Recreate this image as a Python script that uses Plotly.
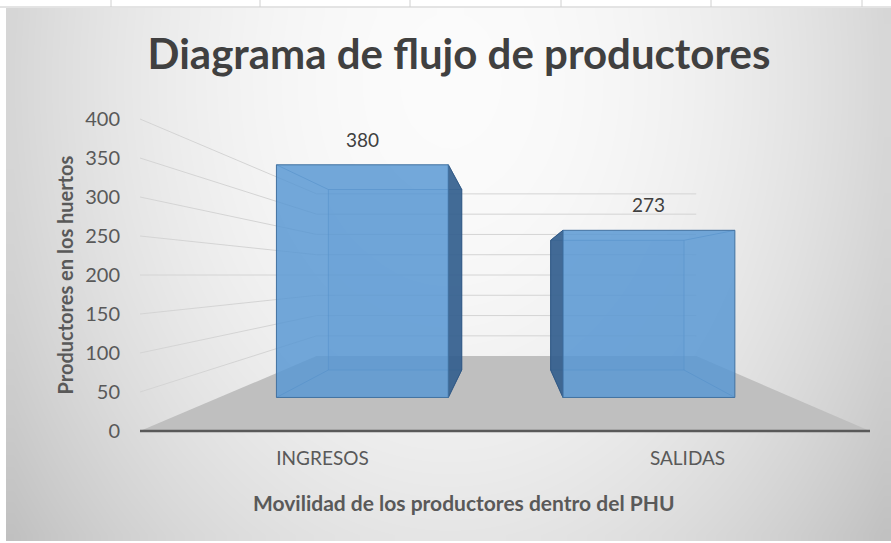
import numpy as np
import plotly.graph_objects as go

# ---------------- data ----------------
categories = ["INGRESOS", "SALIDAS"]
values = [380, 273]
y_ticks = [0, 50, 100, 150, 200, 250, 300, 350, 400]

title_text = "Diagrama de flujo de productores"
x_title = "Movilidad de los productores dentro del PHU"
y_title = "Productores en los huertos"

# ---------------- geometry of the pseudo-3D scene ----------------
W, H = 891, 543
FX0, FX1 = 140, 870          # front edge of floor (pixels)
FY0, FY1 = 431, 119          # pixel rows of value 0 and YMAX on the front plane
YMAX = 400
VX, VY = 508, 275            # vanishing point
D_BAR_FRONT = 0.785          # depth factor of bar front faces
D_BAR_BACK = 0.609           # depth factor of bar back faces
D_WALL = 0.52                # depth factor of back wall
GAP = 0.40                   # bar gap

FONT = "Lato"
TXT = "#595959"
DARK = "#404040"


def front_y(v):
    return FY0 + (FY1 - FY0) * v / YMAX


def proj(px, py, d):
    return VX + d * (px - VX), VY + d * (py - VY)


fig = go.Figure()

# ---- background radial gradient (pixel layer) ----
nx, ny = 60, 40
xe = np.linspace(6, W, nx + 1)
ye = np.linspace(8, 541, ny + 1)
xc = (xe[:-1] + xe[1:]) / 2
yc = (ye[:-1] + ye[1:]) / 2
XX, YY = np.meshgrid(xc, yc)
r2 = ((XX - 450) / 520) ** 2 + ((YY - 80) / 700) ** 2
Z = np.clip(251 - 52 * r2, 0, 255)
fig.add_trace(go.Heatmap(x=xe, y=ye, z=Z, zmin=0, zmax=255, zsmooth="best",
                         colorscale=[[0, "rgb(0,0,0)"], [1, "rgb(255,255,255)"]],
                         showscale=False, hoverinfo="skip", xaxis="x", yaxis="y"))

# ---- wall grid lines (left wall diagonal + back wall horizontal) ----
wall_right_x = proj(FX1, 0, D_WALL)[0]
for t in y_ticks[1:]:
    fy = front_y(t)
    bx, by = proj(FX0, fy, D_WALL)
    fig.add_trace(go.Scatter(x=[FX0, bx, wall_right_x], y=[fy, by, by], mode="lines",
                             line=dict(color="#d4d4d4", width=1), hoverinfo="skip",
                             showlegend=False, xaxis="x", yaxis="y"))

# ---- floor ----
bl = proj(FX0, FY0, D_WALL)
br = proj(FX1, FY0, D_WALL)
fig.add_trace(go.Scatter(x=[FX0, FX1, br[0], bl[0], FX0], y=[FY0, FY0, br[1], bl[1], FY0],
                         mode="lines", fill="toself", fillcolor="#bfbfbf",
                         line=dict(width=0, color="#bfbfbf"), hoverinfo="skip",
                         showlegend=False, xaxis="x", yaxis="y"))

# ---- front axis line ----
fig.add_trace(go.Scatter(x=[FX0, FX1], y=[FY0, FY0], mode="lines",
                         line=dict(color="#595959", width=2.5), hoverinfo="skip",
                         showlegend=False, xaxis="x", yaxis="y"))

# ---- bar hidden edges and side faces (computed from values) ----
n = len(categories)
cw = (FX1 - FX0) / n
hw = (1 - GAP) / 2 * cw
edge_col = "rgba(55,100,150,0.55)"
for i, v in enumerate(values):
    cx = FX0 + (i + 0.5) * cw
    ft, fb = front_y(v), FY0
    corners = {}
    for name, (px, py) in {"tl": (cx - hw, ft), "tr": (cx + hw, ft),
                            "bl": (cx - hw, fb), "br": (cx + hw, fb)}.items():
        corners["f" + name] = proj(px, py, D_BAR_FRONT)
        corners["b" + name] = proj(px, py, D_BAR_BACK)
    seq = ["btl", "btr", "bbr", "bbl", "btl"]
    fig.add_trace(go.Scatter(x=[corners[k][0] for k in seq], y=[corners[k][1] for k in seq],
                             mode="lines", line=dict(color=edge_col, width=1),
                             fill="toself", fillcolor="rgba(70,125,190,0.12)",
                             hoverinfo="skip", showlegend=False, xaxis="x", yaxis="y"))
    for k in ["tl", "tr", "bl", "br"]:
        fig.add_trace(go.Scatter(x=[corners["f" + k][0], corners["b" + k][0]],
                                 y=[corners["f" + k][1], corners["b" + k][1]],
                                 mode="lines", line=dict(color=edge_col, width=1),
                                 hoverinfo="skip", showlegend=False, xaxis="x", yaxis="y"))
    side = "r" if cx < VX else "l"
    seq = ["ft" + side, "bt" + side, "bb" + side, "fb" + side, "ft" + side]
    fig.add_trace(go.Scatter(x=[corners[k][0] for k in seq], y=[corners[k][1] for k in seq],
                             mode="lines", fill="toself", fillcolor="rgba(52,96,142,0.92)",
                             line=dict(color="rgba(45,85,130,0.9)", width=1),
                             hoverinfo="skip", showlegend=False, xaxis="x", yaxis="y"))

# ---- bar front faces (real bar trace on its own axis) ----
fig.add_trace(go.Bar(x=categories, y=values, xaxis="x2", yaxis="y2",
                     marker=dict(color="rgba(88,151,211,0.84)",
                                 line=dict(color="rgb(65,113,160)", width=1)),
                     hoverinfo="x+y", showlegend=False))

# ---- dummy trace for category/value axes ----
fig.add_trace(go.Scatter(x=categories, y=[0, 0], xaxis="x3", yaxis="y3", mode="markers",
                         marker=dict(opacity=0), hoverinfo="skip", showlegend=False))

# bar axis ranges derived from the projection
p0 = VY + D_BAR_FRONT * (front_y(0) - VY)
k = D_BAR_FRONT * (FY1 - FY0) / YMAX
span = -H / k
r0 = (p0 / H - 1) * span
r1 = r0 + span
bx0 = proj(FX0, 0, D_BAR_FRONT)[0]
bx1 = proj(FX1, 0, D_BAR_FRONT)[0]

annotations = []
for c, v in zip(categories, values):
    annotations.append(dict(x=c, y=v, xref="x2", yref="y2", text=str(v), showarrow=False,
                            yanchor="bottom", yshift=12,
                            font=dict(family=FONT, size=19, color=DARK)))
annotations.append(dict(x=464 / W, y=1 - 502 / H, xref="paper", yref="paper",
                        text=x_title, showarrow=False, xanchor="center", yanchor="middle",
                        font=dict(family=FONT, size=21, color=TXT, weight="bold")))

shapes = [dict(type="line", xref="paper", yref="paper", x0=0, x1=1, y0=1 - 7 / H, y1=1 - 7 / H,
               line=dict(color="#c8c8c8", width=1))]
for tx in [111, 260, 410, 561, 711, 862]:
    shapes.append(dict(type="line", xref="paper", yref="paper", x0=tx / W, x1=tx / W,
                       y0=1 - 7 / H, y1=1, line=dict(color="#d0d0d0", width=1)))

fig.update_layout(
    width=W, height=H, autosize=False,
    margin=dict(l=0, r=0, t=0, b=0, pad=0, autoexpand=False),
    paper_bgcolor="white", plot_bgcolor="rgba(0,0,0,0)",
    showlegend=False,
    title=dict(text=title_text, x=459 / W, xanchor="center", y=1 - 54 / H, yanchor="middle",
               xref="paper", yref="paper", automargin=False,
               font=dict(family=FONT, size=42, color=DARK, weight="bold")),
    xaxis=dict(range=[0, W], domain=[0, 1], visible=False, fixedrange=True, automargin=False),
    yaxis=dict(range=[H, 0], domain=[0, 1], visible=False, fixedrange=True, automargin=False),
    xaxis2=dict(type="category", categoryarray=categories, range=[-0.5, n - 0.5],
                domain=[bx0 / W, bx1 / W], anchor="y2", visible=False, fixedrange=True,
                automargin=False),
    yaxis2=dict(range=[r0, r1], domain=[0, 1], anchor="x2", visible=False, fixedrange=True,
                automargin=False),
    xaxis3=dict(type="category", categoryarray=categories, range=[-0.5, n - 0.5],
                domain=[FX0 / W, FX1 / W], anchor="y3", showline=False, showgrid=False,
                zeroline=False, ticks="", ticklabelstandoff=14, automargin=False,
                tickfont=dict(family=FONT, size=19, color=TXT), fixedrange=True),
    yaxis3=dict(range=[0, YMAX], domain=[1 - FY0 / H, 1 - FY1 / H], anchor="x3",
                tickvals=y_ticks, showline=False, showgrid=False, zeroline=False,
                ticks="", ticklabelstandoff=19, automargin=False,
                tickfont=dict(family=FONT, size=20, color=TXT),
                title=dict(text=y_title, standoff=6,
                           font=dict(family=FONT, size=20, color=TXT, weight="bold")),
                fixedrange=True),
    bargap=GAP,
    annotations=annotations,
    shapes=shapes,
)

fig.write_html("out.html")
